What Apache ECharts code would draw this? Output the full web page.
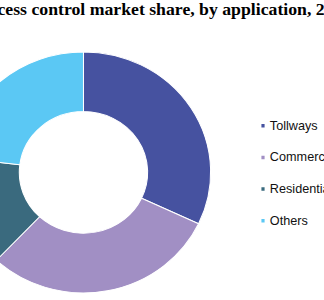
<!DOCTYPE html>
<html>
<head>
<meta charset="utf-8">
<script src="https://cdn.jsdelivr.net/npm/echarts@6/dist/echarts.min.js"></script>
<style>
  html, body { margin: 0; padding: 0; background: #ffffff; overflow: hidden; width: 324px; height: 300px; }
  #chart { width: 307px; height: 300px; transform: scaleX(1.0554); transform-origin: 0 0; }
</style>
</head>
<body>
<div id="chart"></div>
<script>
var titleText = 'Access control market share, by application, 2016 (%)';
var categories = ['Tollways', 'Commercial', 'Residential', 'Others'];
var shares = [32, 30, 15, 23];
var colors = ['#4652A0', '#A18FC4', '#3A6A7E', '#5BC8F4'];

var chart = echarts.init(document.getElementById('chart'), null, { renderer: 'svg' });
chart.setOption({
  animation: false,
  backgroundColor: '#ffffff',
  color: colors,
  title: {
    text: titleText,
    left: -22,
    top: 1,
    padding: 0,
    textStyle: {
      fontFamily: 'Liberation Serif',
      fontWeight: 'bold',
      fontSize: 16.8,
      color: '#000000'
    }
  },
  legend: {
    orient: 'vertical',
    left: 245.7,
    top: 119.7,
    padding: 0,
    itemWidth: 5,
    itemHeight: 5.5,
    itemGap: 19.7,
    icon: 'rect',
    data: categories,
    textStyle: {
      fontFamily: 'Liberation Sans',
      fontSize: 12,
      lineHeight: 12,
      color: '#111111',
      padding: [0, 0, 0, -1]
    }
  },
  series: [{
    type: 'pie',
    center: [79.1, 172.4],
    radius: [60.8, 120.5],
    startAngle: 90,
    clockwise: true,
    label: { show: false },
    labelLine: { show: false },
    itemStyle: { borderColor: '#ffffff', borderWidth: 1 },
    emphasis: { disabled: true },
    data: categories.map(function (c, i) { return { name: c, value: shares[i] }; })
  }]
});
</script>
</body>
</html>
